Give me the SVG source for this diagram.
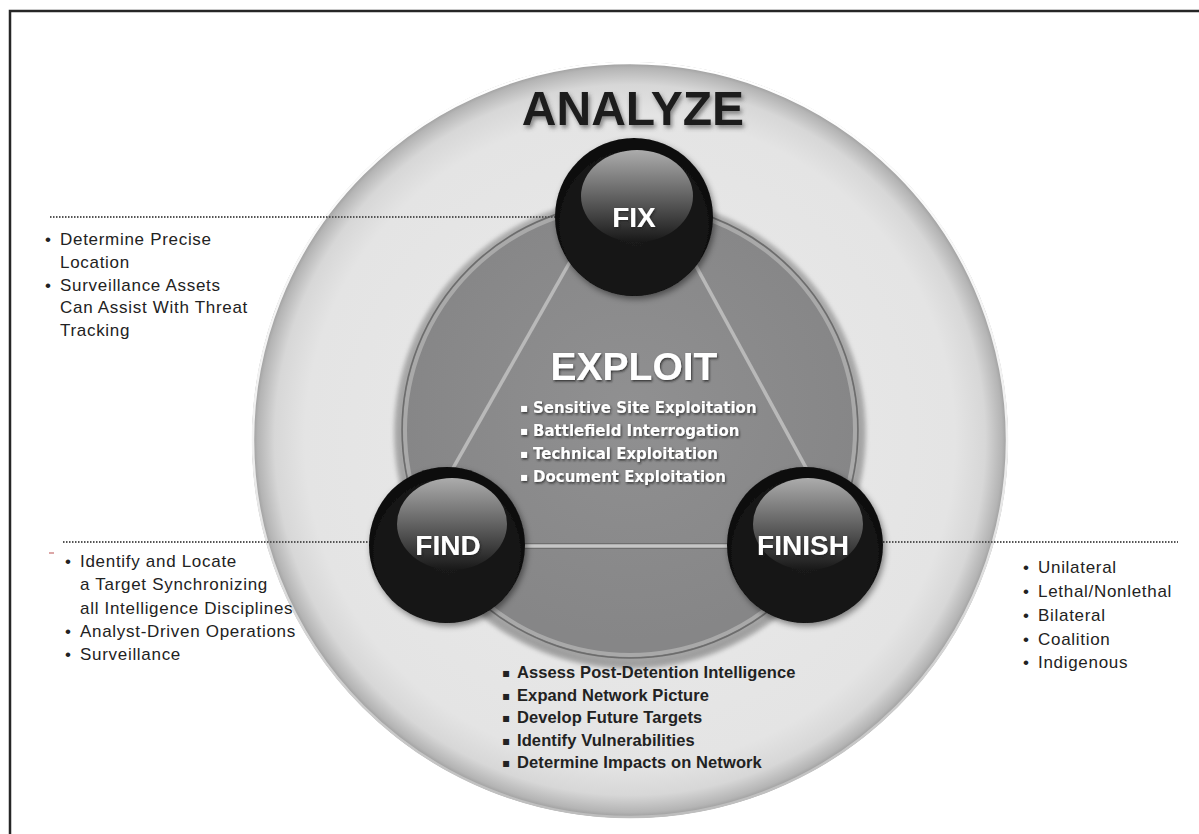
<svg xmlns="http://www.w3.org/2000/svg" width="1199" height="834" viewBox="0 0 1199 834">
  <defs>
    <radialGradient id="ringGrad" cx="630" cy="440" r="378" gradientUnits="userSpaceOnUse">
      <stop offset="0" stop-color="#ebebeb"/>
      <stop offset="0.86" stop-color="#e4e4e4"/>
      <stop offset="0.94" stop-color="#d7d7d7"/>
      <stop offset="0.985" stop-color="#b4b4b4"/>
      <stop offset="1" stop-color="#9a9a9a"/>
    </radialGradient>
    <linearGradient id="rimGrad" x1="0" y1="0" x2="0" y2="1">
      <stop offset="0" stop-color="#ffffff"/>
      <stop offset="0.5" stop-color="#f0f0f0"/>
      <stop offset="1" stop-color="#bdbdbd"/>
    </linearGradient>
    <radialGradient id="diskGrad" cx="630" cy="410" r="230" gradientUnits="userSpaceOnUse">
      <stop offset="0" stop-color="#909091"/>
      <stop offset="1" stop-color="#868687"/>
    </radialGradient>
    <radialGradient id="sphereGrad" cx="0.5" cy="0.55" r="0.55">
      <stop offset="0" stop-color="#1c1c1c"/>
      <stop offset="0.85" stop-color="#121212"/>
      <stop offset="1" stop-color="#0a0a0a"/>
    </radialGradient>
    <linearGradient id="glossGrad" x1="0" y1="0" x2="0" y2="1">
      <stop offset="0" stop-color="#acacac"/>
      <stop offset="0.45" stop-color="#6a6a6a"/>
      <stop offset="1" stop-color="#181818"/>
    </linearGradient>
    <filter id="sphereShadow" x="-30%" y="-30%" width="160%" height="160%">
      <feDropShadow dx="2" dy="3" stdDeviation="3" flood-color="#000" flood-opacity="0.45"/>
    </filter>
    <filter id="diskShadow" x="-20%" y="-20%" width="140%" height="140%">
      <feDropShadow dx="0" dy="4" stdDeviation="4" flood-color="#000" flood-opacity="0.35"/>
    </filter>
    <filter id="darkTextShadow" x="-10%" y="-30%" width="120%" height="160%">
      <feDropShadow dx="2" dy="3" stdDeviation="2" flood-color="#444" flood-opacity="0.6"/>
    </filter>
    <filter id="whiteTextShadow" x="-10%" y="-30%" width="120%" height="160%">
      <feDropShadow dx="1" dy="1.5" stdDeviation="1" flood-color="#222" flood-opacity="0.8"/>
    </filter>
    <filter id="blur2"><feGaussianBlur stdDeviation="2"/></filter>
  </defs>
  <style>
    .side { font-family: "Liberation Sans", Arial, sans-serif; font-size: 17px; letter-spacing: 0.7px; fill: #222222; }
    .bul { font-family: "Liberation Sans", Arial, sans-serif; font-size: 17px; fill: #222222; }
    .lbl { font-family: "Liberation Sans", Arial, sans-serif; font-weight: bold; font-size: 28px; fill: #ffffff; text-anchor: middle; }
    .exl { font-family: "DejaVu Sans", sans-serif; font-weight: bold; font-size: 15px; fill: #ffffff; }
    .btm { font-family: "Liberation Sans", Arial, sans-serif; font-weight: bold; font-size: 16.5px; letter-spacing: 0.1px; fill: #222222; }
    .sq { font-family: "DejaVu Sans", sans-serif; font-size: 12px; }
    .dots { stroke: #555555; stroke-width: 2; stroke-dasharray: 1.5 1.5; fill: none; }
    .tri { stroke: #b9b9b9; stroke-width: 3.5; fill: none; }
  </style>

  <rect x="0" y="0" width="1199" height="834" fill="#ffffff"/>
  <rect x="10" y="11" width="1200" height="830" fill="none" stroke="#262626" stroke-width="2.5"/>

  <g id="ring">
    <circle cx="630" cy="440" r="378" fill="url(#ringGrad)"/>
    <circle cx="630" cy="440" r="377" fill="none" stroke="url(#rimGrad)" stroke-width="2.5"/>
    <circle cx="630" cy="433" r="232" fill="none" stroke="#7a7a7a" stroke-width="8" opacity="0.5" filter="url(#blur2)"/>
  </g>

  <g id="disk">
    <circle cx="630" cy="430" r="228" fill="url(#diskGrad)" filter="url(#diskShadow)"/>
    <circle cx="630" cy="430" r="225" fill="none" stroke="#a9a9a9" stroke-width="4"/>
    <circle cx="630" cy="430" r="228" fill="none" stroke="#6c6c6c" stroke-width="1.5"/>
  </g>

  <g id="connectors">
    <line class="tri" x1="605" y1="200" x2="418" y2="530"/>
    <line class="tri" x1="660" y1="200" x2="840" y2="530"/>
    <line x1="447" y1="546" x2="805" y2="546" stroke="#6f6f6f" stroke-width="6"/>
    <line x1="447" y1="546" x2="805" y2="546" stroke="#c6c6c6" stroke-width="3.5"/>
    <line class="dots" x1="50" y1="217" x2="560" y2="217"/>
    <line class="dots" x1="63" y1="542" x2="372" y2="542"/>
    <line class="dots" x1="880" y1="542" x2="1178" y2="542"/>
  </g>

  <g id="node-analyze">
    <text x="633" y="125" font-family="Liberation Sans, Arial, sans-serif" font-weight="bold" font-size="48" fill="#1c1c1c" text-anchor="middle" filter="url(#darkTextShadow)">ANALYZE</text>
  </g>

  <g id="node-fix">
    <circle cx="634" cy="217" r="79" fill="url(#sphereGrad)" filter="url(#sphereShadow)"/>
    <ellipse cx="637" cy="196" rx="56" ry="46" fill="url(#glossGrad)"/>
    <text class="lbl" x="634" y="227" filter="url(#whiteTextShadow)">FIX</text>
  </g>

  <g id="node-find">
    <circle cx="447" cy="545" r="78" fill="url(#sphereGrad)" filter="url(#sphereShadow)"/>
    <ellipse cx="452" cy="524" rx="55" ry="46" fill="url(#glossGrad)"/>
    <text class="lbl" x="448" y="555" filter="url(#whiteTextShadow)">FIND</text>
  </g>

  <g id="node-finish">
    <circle cx="805" cy="545" r="78" fill="url(#sphereGrad)" filter="url(#sphereShadow)"/>
    <ellipse cx="808" cy="524" rx="55" ry="46" fill="url(#glossGrad)"/>
    <text class="lbl" x="803" y="555" filter="url(#whiteTextShadow)">FINISH</text>
  </g>

  <g id="node-exploit">
    <text x="634" y="380" font-family="Liberation Sans, Arial, sans-serif" font-weight="bold" font-size="39" fill="#ffffff" text-anchor="middle" filter="url(#whiteTextShadow)">EXPLOIT</text>
    <g filter="url(#whiteTextShadow)">
      <text class="sq" x="520" y="412" fill="#ffffff">▪</text>
      <text class="exl" x="533" y="413">Sensitive Site Exploitation</text>
      <text class="sq" x="520" y="435" fill="#ffffff">▪</text>
      <text class="exl" x="533" y="436">Battlefield Interrogation</text>
      <text class="sq" x="520" y="458" fill="#ffffff">▪</text>
      <text class="exl" x="533" y="459">Technical Exploitation</text>
      <text class="sq" x="520" y="481" fill="#ffffff">▪</text>
      <text class="exl" x="533" y="482">Document Exploitation</text>
    </g>
  </g>

  <g id="list-fix">
    <text class="bul" x="45" y="245">•</text>
    <text class="side" x="60" y="245">Determine Precise</text>
    <text class="side" x="60" y="268">Location</text>
    <text class="bul" x="45" y="291">•</text>
    <text class="side" x="60" y="291">Surveillance Assets</text>
    <text class="side" x="60" y="313">Can Assist With Threat</text>
    <text class="side" x="60" y="336">Tracking</text>
  </g>

  <g id="list-find">
    <line x1="49" y1="553" x2="54" y2="553" stroke="#d08a8a" stroke-width="1.5"/>
    <text class="bul" x="65" y="567">•</text>
    <text class="side" x="80" y="567">Identify and Locate</text>
    <text class="side" x="80" y="590">a Target Synchronizing</text>
    <text class="side" x="80" y="613.5">all Intelligence Disciplines</text>
    <text class="bul" x="65" y="637">•</text>
    <text class="side" x="80" y="637">Analyst-Driven Operations</text>
    <text class="bul" x="65" y="660">•</text>
    <text class="side" x="80" y="660">Surveillance</text>
  </g>

  <g id="list-finish">
    <text class="bul" x="1023" y="573">•</text>
    <text class="side" x="1038" y="573">Unilateral</text>
    <text class="bul" x="1023" y="597">•</text>
    <text class="side" x="1038" y="597">Lethal/Nonlethal</text>
    <text class="bul" x="1023" y="621">•</text>
    <text class="side" x="1038" y="621">Bilateral</text>
    <text class="bul" x="1023" y="645">•</text>
    <text class="side" x="1038" y="645">Coalition</text>
    <text class="bul" x="1023" y="668">•</text>
    <text class="side" x="1038" y="668">Indigenous</text>
  </g>

  <g id="list-analyze">
    <text class="sq" x="502" y="677" fill="#222222">▪</text>
    <text class="btm" x="517" y="678">Assess Post-Detention Intelligence</text>
    <text class="sq" x="502" y="700" fill="#222222">▪</text>
    <text class="btm" x="517" y="700.5">Expand Network Picture</text>
    <text class="sq" x="502" y="722" fill="#222222">▪</text>
    <text class="btm" x="517" y="723">Develop Future Targets</text>
    <text class="sq" x="502" y="745" fill="#222222">▪</text>
    <text class="btm" x="517" y="745.5">Identify Vulnerabilities</text>
    <text class="sq" x="502" y="767" fill="#222222">▪</text>
    <text class="btm" x="517" y="768">Determine Impacts on Network</text>
  </g>
</svg>
